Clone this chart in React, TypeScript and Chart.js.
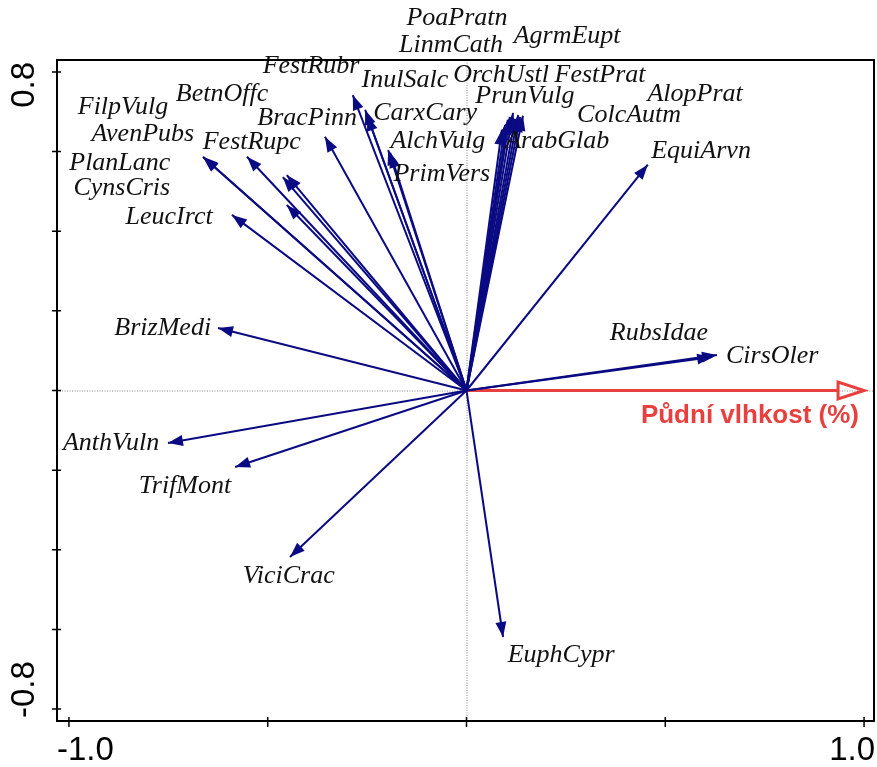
import React, { useEffect, useRef } from "react";
import { Chart, registerables } from "chart.js";

Chart.register(...registerables);

// ---- data ----
const species = [
  "FestRubr", "InulSalc", "CarxCary", "AlchVulg", "PrimVers", "BracPinn",
  "PlanLanc", "FestRupc", "BetnOffc", "FilpVulg", "AvenPubs", "LeucIrct",
  "CynsCris", "BrizMedi", "AnthVuln", "TrifMont", "ViciCrac", "EuphCypr",
  "CirsOler", "RubsIdae", "EquiArvn", "PoaPratn", "LinmCath", "AgrmEupt",
  "OrchUstl", "FestPrat", "PrunVulg", "ColcAutm", "AlopPrat", "ArabGlab",
];
const arrowX = [
  -0.286, -0.255, -0.25, -0.197, -0.192, -0.356,
  -0.663, -0.552, -0.462, -0.452, -0.452, -0.59,
  -0.661, -0.625, -0.751, -0.582, -0.444, 0.092,
  0.63, 0.618, 0.456, 0.117, 0.109, 0.142,
  0.104, 0.13, 0.122, 0.135, 0.097, 0.089,
];
const arrowY = [
  0.742, 0.705, 0.69, 0.604, 0.597, 0.637,
  0.587, 0.587, 0.536, 0.541, 0.466, 0.441,
  0.585, 0.157, -0.132, -0.192, -0.418, -0.619,
  0.089, 0.084, 0.567, 0.697, 0.687, 0.69,
  0.68, 0.692, 0.682, 0.687, 0.667, 0.655,
];
const labelX = [
  -0.391, -0.155, -0.104, -0.072, -0.062, -0.401,
  -0.872, -0.54, -0.615, -0.864, -0.814, -0.748,
  -0.867, -0.764, -0.894, -0.708, -0.447, 0.238,
  0.769, 0.484, 0.59, -0.024, -0.039, 0.253,
  0.087, 0.336, 0.147, 0.409, 0.575, 0.228,
];
const labelY = [
  0.815, 0.78, 0.697, 0.627, 0.543, 0.685,
  0.572, 0.624, 0.745, 0.712, 0.644, 0.436,
  0.509, 0.157, -0.132, -0.24, -0.466, -0.665,
  0.087, 0.144, 0.602, 0.936, 0.866, 0.891,
  0.793, 0.793, 0.74, 0.692, 0.745, 0.627,
];

const envName = "Půdní vlhkost (%)";
const envX = 1.0;
const envY = 0.0;
const envLabelX = 0.713;
const envLabelY = -0.064;

const xTicks = [-1.0, -0.5, 0, 0.5, 1.0];
const xTickLabels = ["-1.0", "", "", "", "1.0"];
const yTicks = [-0.8, -0.6, -0.4, -0.2, 0, 0.2, 0.4, 0.6, 0.8];
const yTickLabels = ["-0.8", "", "", "", "", "", "", "", "0.8"];

const X_MIN = -1.03;
const X_MAX = 1.025;
const Y_MIN = -0.83;
const Y_MAX = 0.83;

const NAVY = "#0a0a82";
const RED = "#e8403e";

const biplotPlugin = {
  id: "biplot",
  beforeDatasetsDraw(chart: any) {
    const { ctx, chartArea: a, scales } = chart;
    const xs = scales.x;
    const ys = scales.y;
    const x0 = xs.getPixelForValue(0);
    const y0 = ys.getPixelForValue(0);
    ctx.save();
    // dotted zero lines
    ctx.strokeStyle = "#8a8a8a";
    ctx.lineWidth = 1;
    ctx.setLineDash([1, 1.5]);
    ctx.beginPath();
    ctx.moveTo(x0 + 0.5, a.top);
    ctx.lineTo(x0 + 0.5, a.bottom);
    ctx.moveTo(a.left, y0 + 0.5);
    ctx.lineTo(a.right, y0 + 0.5);
    ctx.stroke();
    ctx.setLineDash([]);

    // environmental arrow
    const ex = xs.getPixelForValue(envX);
    const ey = ys.getPixelForValue(envY);
    const ang = Math.atan2(ey - y0, ex - x0);
    const L = 26;
    const W = 8.5;
    const bx = ex - L * Math.cos(ang);
    const by = ey - L * Math.sin(ang);
    ctx.strokeStyle = RED;
    ctx.lineWidth = 3;
    ctx.beginPath();
    ctx.moveTo(x0, y0);
    ctx.lineTo(bx, by);
    ctx.stroke();
    ctx.lineJoin = "miter";
    ctx.beginPath();
    ctx.moveTo(ex, ey);
    ctx.lineTo(bx - W * Math.sin(ang), by + W * Math.cos(ang));
    ctx.lineTo(bx + W * Math.sin(ang), by - W * Math.cos(ang));
    ctx.closePath();
    ctx.stroke();
    ctx.restore();
  },
  afterDatasetsDraw(chart: any) {
    const { ctx, chartArea: a, scales } = chart;
    const xs = scales.x;
    const ys = scales.y;
    const x0 = xs.getPixelForValue(0);
    const y0 = ys.getPixelForValue(0);
    ctx.save();
    // arrowheads
    ctx.fillStyle = NAVY;
    for (let i = 0; i < species.length; i++) {
      const tx = xs.getPixelForValue(arrowX[i]);
      const ty = ys.getPixelForValue(arrowY[i]);
      const ang = Math.atan2(ty - y0, tx - x0);
      const L = 15;
      const W = 5.5;
      const bx = tx - L * Math.cos(ang);
      const by = ty - L * Math.sin(ang);
      ctx.beginPath();
      ctx.moveTo(tx, ty);
      ctx.lineTo(bx - W * Math.sin(ang), by + W * Math.cos(ang));
      ctx.lineTo(bx + W * Math.sin(ang), by - W * Math.cos(ang));
      ctx.closePath();
      ctx.fill();
    }
    // species labels
    ctx.fillStyle = "#111";
    ctx.font = 'italic 26px "Liberation Serif", "Times New Roman", serif';
    ctx.textAlign = "center";
    ctx.textBaseline = "middle";
    for (let i = 0; i < species.length; i++) {
      ctx.fillText(
        species[i],
        xs.getPixelForValue(labelX[i]),
        ys.getPixelForValue(labelY[i])
      );
    }
    // env label
    ctx.fillStyle = RED;
    ctx.font = 'bold 26px "Liberation Sans", Arial, sans-serif';
    ctx.fillText(envName, xs.getPixelForValue(envLabelX), ys.getPixelForValue(envLabelY));

    // frame
    ctx.strokeStyle = "#000";
    ctx.lineWidth = 2;
    ctx.strokeRect(a.left, a.top, a.right - a.left, a.bottom - a.top);

    // ticks
    ctx.lineWidth = 1.5;
    ctx.beginPath();
    for (const t of xTicks) {
      const px = xs.getPixelForValue(t);
      ctx.moveTo(px, a.bottom - 4);
      ctx.lineTo(px, a.bottom + 6);
    }
    for (const t of yTicks) {
      const py = ys.getPixelForValue(t);
      ctx.moveTo(a.left - 5, py);
      ctx.lineTo(a.left + 4, py);
    }
    ctx.stroke();

    // tick labels
    ctx.fillStyle = "#000";
    ctx.font = '33px "Liberation Sans", Arial, sans-serif';
    ctx.textBaseline = "middle";
    xTicks.forEach((t, i) => {
      const s = xTickLabels[i];
      if (!s) return;
      let px = xs.getPixelForValue(t);
      if (i === 0) {
        ctx.textAlign = "left";
        px = a.left;
      } else if (i === xTicks.length - 1) {
        ctx.textAlign = "right";
        px = a.right + 1;
      } else ctx.textAlign = "center";
      ctx.fillText(s, px, a.bottom + 30);
    });
    yTicks.forEach((t, i) => {
      const s = yTickLabels[i];
      if (!s) return;
      let py = ys.getPixelForValue(t);
      ctx.save();
      if (i === 0) {
        ctx.textAlign = "left";
        py = a.bottom - 3;
      } else if (i === yTicks.length - 1) {
        ctx.textAlign = "right";
        py = a.top + 2;
      } else ctx.textAlign = "center";
      ctx.translate(25, py);
      ctx.rotate(-Math.PI / 2);
      ctx.fillText(s, 0, 0);
      ctx.restore();
    });
    ctx.restore();
  },
};

export default function App() {
  const canvasRef = useRef<HTMLCanvasElement | null>(null);
  useEffect(() => {
    const canvas = canvasRef.current;
    if (!canvas) return;
    const datasets = species.map((name, i) => ({
      label: name,
      data: [
        { x: 0, y: 0 },
        { x: arrowX[i], y: arrowY[i] },
      ],
      showLine: true,
      borderColor: NAVY,
      backgroundColor: NAVY,
      borderWidth: 2,
      pointRadius: 0,
      clip: false as any,
    }));
    const chart = new Chart(canvas, {
      type: "scatter",
      data: { datasets },
      options: {
        animation: false,
        responsive: false,
        devicePixelRatio: 1,
        layout: { padding: { left: 57, top: 60, right: 3, bottom: 46 } },
        plugins: { legend: { display: false }, tooltip: { enabled: false } },
        events: [],
        scales: {
          x: { type: "linear", min: X_MIN, max: X_MAX, display: false },
          y: { type: "linear", min: Y_MIN, max: Y_MAX, display: false },
        },
      },
      plugins: [biplotPlugin],
    });
    return () => chart.destroy();
  }, []);
  return (
    <div style={{ position: "absolute", left: 0, top: 0, width: 877, height: 767, background: "#fff" }}>
      <canvas ref={canvasRef} width={877} height={767} style={{ width: 877, height: 767, display: "block" }} />
    </div>
  );
}
